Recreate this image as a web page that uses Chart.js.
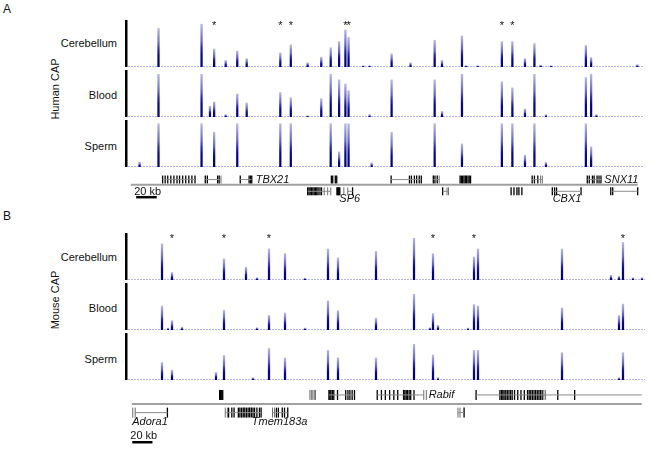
<!DOCTYPE html>
<html>
<head>
<meta charset="utf-8">
<script src="https://cdn.jsdelivr.net/npm/chart.js@4.4.1/dist/chart.umd.min.js"></script>
<style>
  body { margin: 0; background: #fff; }
  #fig { position: relative; width: 651px; height: 451px; overflow: hidden;
         font-family: 'Liberation Sans', Arial, sans-serif; color: #111; }
  .letter { position: absolute; font-size: 12px; line-height: 14px; }
  .lbl { position: absolute; left: 0; width: 117px; text-align: right; font-size: 11px; line-height: 13px; white-space: nowrap; }
  .side { position: absolute; font-size: 11px; line-height: 13px; white-space: nowrap;
          transform: translate(-50%, -50%) rotate(-90deg); }
</style>
</head>
<body>
<div id="fig"></div>
<script>
'use strict'

// ---- panel A (human), positions in kb from the left edge of the tracks
const peakPosA    = [12, 30, 71, 79, 83, 94, 105, 114, 146, 156, 172, 185, 194, 202, 208, 211, 225, 231, 233, 252, 270, 293, 300, 319, 323, 334, 357, 367, 379, 388, 394, 399, 404, 437, 442, 447, 486];
const cerebellumA = [0, 82, 91, 0, 38, 14, 34, 18, 30, 47, 9, 21, 41, 54, 79, 63, 3, 3, 0, 28, 9, 57, 14, 66, 3, 3, 54, 54, 18, 50, 4, 0, 3, 46, 20, 0, 5];
const bloodA      = [0, 91, 91, 23, 32, 5, 49, 30, 52, 41, 3, 39, 91, 79, 70, 56, 0, 5, 0, 79, 0, 79, 12, 91, 0, 0, 75, 62, 17, 91, 0, 5, 0, 84, 91, 5, 0];
const spermA      = [10, 92, 92, 0, 74, 0, 92, 0, 92, 92, 0, 0, 92, 32, 92, 92, 0, 0, 9, 74, 0, 92, 0, 49, 0, 0, 92, 92, 25, 92, 0, 10, 0, 92, 43, 0, 0];
const starsA      = [83, 146, 156, 208, 211, 357, 367];

const intronsA1 = [[29.5, 61], [71, 86], [105, 116], [251.7, 281], [292.7, 298.5], [388.8, 398.7], [442.4, 455.7]];
const exonsA1   = [29.5, 32, 34.5, 37.5, 40.5, 43.5, 46, 49, 52, 55, 58, 61, 71, 73, 83, 84.5, 105, 113.6, 115, 116.2,
                   193.6, 194.9, 197.4, 198.8, 251.7, 269.5, 271.4, 274.3, 276.5, 279, 281, 292.7, 294.3, 296.5,
                   318.7, 320, 321.2, 322.5, 323.8, 325, 326.4, 327.6, 328.9, 388.8, 391, 394.3,
                   442.4, 444.3, 447.4, 449, 451.9, 453.8, 455.7];
const utrA1     = [86.3, 298.4, 397, 398.7];
const intronsA2 = [[170.5, 193], [209.5, 214.2], [301.8, 307.5], [408.4, 436.3], [465.2, 491.4]];
const exonsA2   = [170.5, 171.8, 173, 174.3, 175.6, 176.9, 178.2, 179.4, 180.7, 182.5, 184, 199, 199.7, 200.4, 201.1, 201.8, 214.2,
                   301.8, 368.3, 371.1, 374, 375.9, 378.8, 408.4, 410.6, 412.5, 436.3, 465.2, 467.1, 491.4];
const utrA2     = [186.6, 190, 193, 205.7, 209.5, 306, 307.5];
const geneNamesA = [['TBX21', 120, 1, 'left'], ['SNX11', 459, 1, 'left'], ['SP6', 211.4, 2, 'center'], ['CBX1', 422.7, 2, 'center']];
const scaleBarA  = [3.8, 23.8];

// ---- panel B (mouse)
const peakPosB    = [37, 43, 47, 57, 91, 99, 121, 128, 132, 144, 160, 180, 203, 213, 251, 289, 305, 308, 313, 343, 349, 353, 437, 486, 494, 498, 508, 517];
const cerebellumB = [77, 0, 16, 0, 0, 45, 27, 0, 5, 66, 56, 4, 66, 47, 61, 89, 0, 56, 0, 0, 49, 66, 66, 10, 8, 80, 5, 5];
const bloodB      = [51, 4, 20, 6, 0, 42, 0, 0, 5, 31, 36, 4, 62, 41, 25, 76, 5, 35, 10, 4, 54, 51, 47, 0, 31, 55, 0, 0];
const spermB      = [37, 0, 21, 0, 16, 52, 0, 5, 0, 67, 47, 0, 63, 47, 47, 76, 0, 53, 5, 0, 63, 63, 58, 0, 5, 58, 0, 0];
const starsB      = [47, 99, 144, 308, 349, 498];

const intronsB1 = [[202.3, 228.7], [252, 299.7], [353.3, 523]];
const exonsB1   = [90.5, 91.3, 92.1, 92.9, 93.7, 202.5, 203.5, 204.5, 206, 207.5, 211.3, 219.7, 222, 224, 226.3, 228.7,
                   252, 256.3, 260.3, 264.7, 269, 273, 279, 280.3, 281.7, 283, 284.7, 286.3, 289.7,
                   353.3, 377.7, 379.3, 380.7, 382, 383.7, 385.3, 387, 388.7, 390.3, 392.7, 396, 399.3, 402.7,
                   406, 407.7, 409.3, 411, 412.7, 414.3, 416, 417.7, 419.3, 421, 437, 454.3];
const utrB1     = [183, 184.5, 186, 187.5, 188.7, 299.7, 302.3, 422.7, 424.3];
const intronsB2 = [[3.5, 37], [96.3, 133], [144.7, 160.3], [334.7, 341]];
const exonsB2   = [37, 99.7, 103, 105.3, 109.7, 111.3, 113, 114.7, 116.3, 118, 119.7, 121.3, 123, 124.7, 126.3, 128.7, 131.3, 133,
                   148.7, 150.7, 154.7, 157, 160.3, 341];
const utrB2     = [1.5, 4, 96.3, 98.5, 144.7, 146.8, 334.7, 336.8];
const geneNamesB = [['Rabif', 304.7, 1, 'left'], ['Adora1', 1, 2, 'left'], ['Tmem183a', 152, 2, 'center']];
const scaleBarB  = [1, 21.7];

const tissues = ['Cerebellum', 'Blood', 'Sperm'];
const FONT = '"Liberation Sans", Arial, sans-serif';

const fig = document.getElementById('fig');

function addCanvas(left, top, w, h) {
  const c = document.createElement('canvas');
  c.width = w;
  c.height = h;
  c.style.cssText = `position:absolute;left:${left}px;top:${top}px;width:${w}px;height:${h}px`;
  fig.appendChild(c);
  return c;
}

function addText(txt, cls, css) {
  const d = document.createElement('div');
  d.className = cls;
  d.textContent = txt;
  d.style.cssText = css;
  fig.appendChild(d);
}

// each peak: dark navy at its base, fading to lavender at its tip
function peakFill(context) {
  const chart = context.chart;
  const y = chart.scales.y;
  if (!y || !context.raw) return '#1c1ca0';
  const bottom = y.getPixelForValue(0);
  const top = y.getPixelForValue(context.raw.y);
  if (!isFinite(bottom) || !isFinite(top) || bottom - top < 1) return '#1c1ca0';
  const g = chart.ctx.createLinearGradient(0, bottom, 0, top);
  g.addColorStop(0, '#000070');
  g.addColorStop(0.3, '#08088e');
  g.addColorStop(0.45, '#2a2aa6');
  g.addColorStop(0.6, '#6464c2');
  g.addColorStop(1, '#b8b8e6');
  return g;
}

// baseline + black scale bar on the left of each track
const trackFrame = {
  id: 'trackFrame',
  beforeDatasetsDraw(chart) {
    const { ctx, chartArea: a, scales: { x, y } } = chart;
    ctx.save();
    ctx.strokeStyle = 'rgba(110,110,210,0.5)';
    ctx.lineWidth = 1;
    ctx.setLineDash([2, 1]);
    const y0 = y.getPixelForValue(0) - 0.5;
    ctx.beginPath();
    ctx.moveTo(a.left + 3, y0);
    ctx.lineTo(x.getPixelForValue(x.max), y0);
    ctx.stroke();
    ctx.setLineDash([]);
    ctx.fillStyle = '#000';
    ctx.fillRect(a.left, a.top, 2.5, a.bottom - a.top);
    ctx.restore();
  }
};

const starMarks = {
  id: 'starMarks',
  afterDatasetsDraw(chart, args, opts) {
    if (!opts.list) return;
    const { ctx, chartArea: a, scales: { x } } = chart;
    ctx.save();
    ctx.fillStyle = '#111';
    ctx.font = '11px ' + FONT;
    ctx.textAlign = 'center';
    ctx.textBaseline = 'top';
    opts.list.forEach(v => ctx.fillText('*', x.getPixelForValue(v), a.top));
    ctx.restore();
  }
};

const geneText = {
  id: 'geneText',
  afterDatasetsDraw(chart, args, opts) {
    const { ctx, scales: { x, y } } = chart;
    ctx.save();
    ctx.fillStyle = '#111';
    ctx.textBaseline = 'middle';
    ctx.font = 'italic 11px ' + FONT;
    opts.names.forEach(([name, pos, row, align]) => {
      ctx.textAlign = align;
      ctx.fillText(name, x.getPixelForValue(pos), y.getPixelForValue(row === 1 ? opts.rows.row1 : opts.rows.label));
    });
    ctx.font = '11px ' + FONT;
    ctx.textAlign = 'left';
    ctx.fillText('20 kb', x.getPixelForValue(opts.scaleBar[0]) - 2, y.getPixelForValue(opts.rows.scaleText));
    ctx.restore();
  }
};

function trackChart(canvas, pos, values, xRange, stars) {
  return new Chart(canvas, {
    type: 'bar',
    data: {
      datasets: [{
        data: pos.map((p, i) => ({ x: p, y: values[i] })).filter(d => d.y > 0),
        backgroundColor: peakFill,
        borderWidth: 0,
        barThickness: 1.6
      }]
    },
    options: {
      responsive: false,
      animation: false,
      layout: { padding: 0 },
      scales: {
        x: { type: 'linear', min: xRange[0], max: xRange[1], offset: false, display: false },
        y: { min: 0, max: 100, display: false }
      },
      plugins: {
        legend: { display: false },
        tooltip: { enabled: false },
        starMarks: { list: stars }
      }
    },
    plugins: [trackFrame, starMarks]
  });
}

function geneChart(canvas, g) {
  const r = g.rows;
  const seg = (s, e, row, color, w) => ({
    type: 'line', data: [{ x: s, y: row }, { x: e, y: row }],
    borderColor: color, borderWidth: w, pointRadius: 0, clip: false
  });
  const ticks = (list, row) => list.map(x => ({ x, y: row }));
  const datasets = [seg(g.xRange[0] + 0.5, g.xRange[1], r.divider, '#a0a0a0', 2)];
  g.introns1.forEach(([s, e]) => datasets.push(seg(s, e, r.row1, '#8c8c8c', 1)));
  g.introns2.forEach(([s, e]) => datasets.push(seg(s, e, r.row2, '#8c8c8c', 1)));
  datasets.push({
    type: 'scatter', data: ticks(g.utr1, r.row1).concat(ticks(g.utr2, r.row2)),
    pointStyle: 'line', pointRotation: 90, pointRadius: g.tick, pointBorderColor: '#6e6e6e', pointBorderWidth: 1, clip: false
  });
  datasets.push({
    type: 'scatter', data: ticks(g.exons1, r.row1).concat(ticks(g.exons2, r.row2)),
    pointStyle: 'line', pointRotation: 90, pointRadius: g.tick, pointBorderColor: '#000', pointBorderWidth: 1.3, clip: false
  });
  datasets.push(seg(g.scaleBar[0], g.scaleBar[1], r.scaleBar, '#000', 2.5));
  return new Chart(canvas, {
    type: 'scatter',
    data: { datasets },
    options: {
      responsive: false,
      animation: false,
      layout: { padding: 0 },
      scales: {
        x: { type: 'linear', min: g.xRange[0], max: g.xRange[1], display: false },
        y: { min: 0, max: g.h, reverse: true, display: false }
      },
      plugins: {
        legend: { display: false },
        tooltip: { enabled: false },
        geneText: { names: g.names, rows: r, scaleBar: g.scaleBar }
      }
    },
    plugins: [geneText]
  });
}

const panels = [
  {
    letter: 'A', letterTop: 2, side: 'Human CAP', sideY: 89,
    left: 125, width: 518, xRange: [-1.9, 491.4],
    trackTops: [20, 70, 120], trackH: 47, labelY: [43, 95, 146.5],
    pos: peakPosA, series: [cerebellumA, bloodA, spermA], stars: starsA,
    gene: {
      top: 168, h: 40, width: 518, xRange: [-1.9, 491.4], tick: 4,
      rows: { row1: 8.5, divider: 15.5, row2: 24.5, label: 34.5, scaleText: 25.5, scaleBar: 32.5 },
      introns1: intronsA1, exons1: exonsA1, utr1: utrA1,
      introns2: intronsA2, exons2: exonsA2, utr2: utrA2,
      names: geneNamesA, scaleBar: scaleBarA
    }
  },
  {
    letter: 'B', letterTop: 209, side: 'Mouse CAP', sideY: 300,
    left: 125, width: 520, xRange: [0, 520],
    trackTops: [233, 283, 333], trackH: 47, labelY: [257, 308, 359],
    pos: peakPosB, series: [cerebellumB, bloodB, spermB], stars: starsB,
    gene: {
      top: 380, h: 71, width: 523, xRange: [0, 523], tick: 5,
      rows: { row1: 10.5, divider: 21.5, row2: 32, label: 43.5, scaleText: 60, scaleBar: 68 },
      introns1: intronsB1, exons1: exonsB1, utr1: utrB1,
      introns2: intronsB2, exons2: exonsB2, utr2: utrB2,
      names: geneNamesB, scaleBar: scaleBarB
    }
  }
];

panels.forEach(p => {
  addText(p.letter, 'letter', `left:3px;top:${p.letterTop}px`);
  addText(p.side, 'side', `left:54.5px;top:${p.sideY}px`);
  tissues.forEach((t, i) => {
    addText(t, 'lbl', `top:${p.labelY[i] - 6.4}px`);
    const c = addCanvas(p.left, p.trackTops[i], p.width, p.trackH);
    trackChart(c, p.pos, p.series[i], p.xRange, i === 0 ? p.stars : null);
  });
  const g = p.gene;
  geneChart(addCanvas(p.left, g.top, g.width, g.h), g);
});
</script>
</body>
</html>
